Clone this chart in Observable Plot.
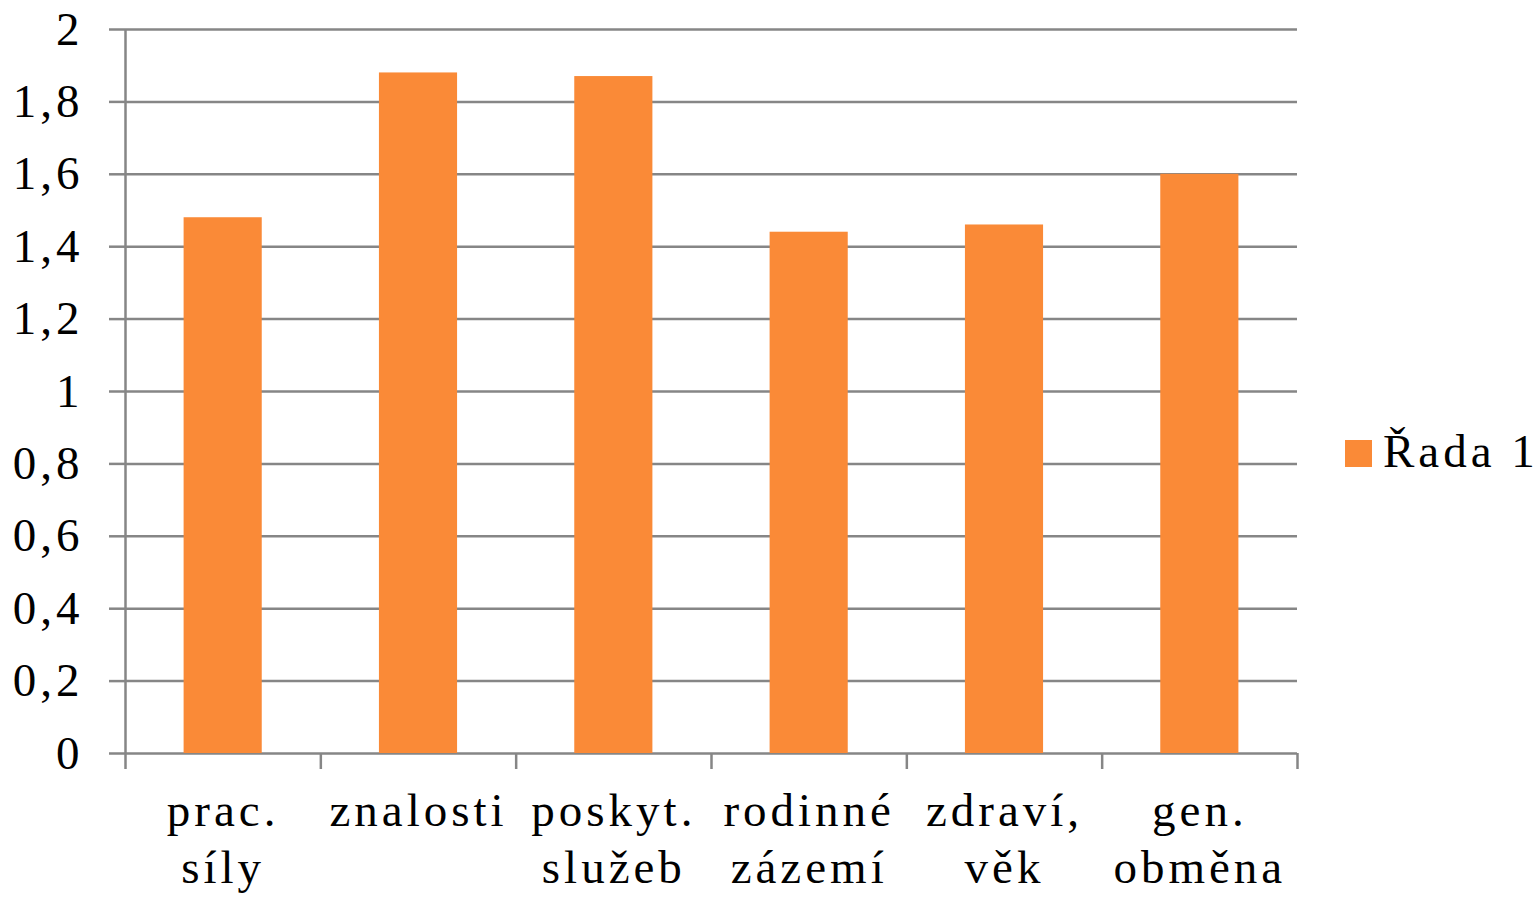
<!DOCTYPE html>
<html><head><meta charset="utf-8">
<script src="https://cdn.jsdelivr.net/npm/d3@7"></script>
<script src="https://cdn.jsdelivr.net/npm/@observablehq/plot@0.6"></script>
<style>
body{margin:0;background:#fff;}
#wrap{position:relative;width:1537px;height:899px;}
#wrap svg{position:absolute;left:0;top:0;}
.sw{position:absolute;left:1345px;top:440px;width:27px;height:27px;background:#FA8A37;}
.lt{position:absolute;left:1383px;top:428px;font-family:'Liberation Serif','DejaVu Serif',serif;font-size:47px;line-height:47px;letter-spacing:4px;color:#000;white-space:nowrap;}
</style></head><body><div id="wrap"></div>
<script>
const categories = ["prac.\nsíly","znalosti","poskyt.\nslužeb","rodinné\nzázemí","zdraví,\nvěk","gen.\nobměna"];
const values = [1.48, 1.88, 1.87, 1.44, 1.46, 1.60];
const yTicks = [0, 0.2, 0.4, 0.6, 0.8, 1, 1.2, 1.4, 1.6, 1.8, 2];
const seriesName = "Řada 1";

const data = categories.map((c, i) => ({i, label: c, value: values[i]}));
const boundaries = d3.range(categories.length + 1);
const gray = "#868686";
const orange = "#FA8A37";

const plot = Plot.plot({
  width: 1537, height: 899,
  marginLeft: 125, marginRight: 240, marginTop: 29, marginBottom: 146,
  style: {fontFamily: "'Liberation Serif', 'DejaVu Serif', serif", fontSize: "47px", letterSpacing: "4px", background: "#fff", color: "#000", overflow: "visible"},
  x: {domain: [0, categories.length], axis: null},
  y: {domain: [0, 2], axis: null},
  marks: [
    Plot.gridY(yTicks, {stroke: gray, strokeOpacity: 1, strokeWidth: 2.5}),
    Plot.axisY(yTicks, {label: null, tickSize: 16, tickPadding: 26, stroke: gray, strokeWidth: 2.5, fill: "#000",
      tickFormat: d => String(d).replace(".", ",")}),
    Plot.ruleX([0], {y1: 0, y2: 2, stroke: gray, strokeWidth: 2.5}),
    Plot.axisX(boundaries, {label: null, tickSize: 16, stroke: gray, strokeWidth: 2.5, tickFormat: () => ""}),
    Plot.rectY(data, {x1: d => d.i + 0.3, x2: d => d.i + 0.7, y: "value", fill: orange}),
    Plot.text(data, {x: d => d.i + 0.5, y: 0, text: "label", lineAnchor: "top", dy: 32, lineHeight: 1.21, fill: "#000"})
  ]
});
const wrap = document.getElementById("wrap");
wrap.appendChild(plot);
const sw = document.createElement("div"); sw.className = "sw"; wrap.appendChild(sw);
const lt = document.createElement("div"); lt.className = "lt"; lt.textContent = seriesName; wrap.appendChild(lt);
</script></body></html>
